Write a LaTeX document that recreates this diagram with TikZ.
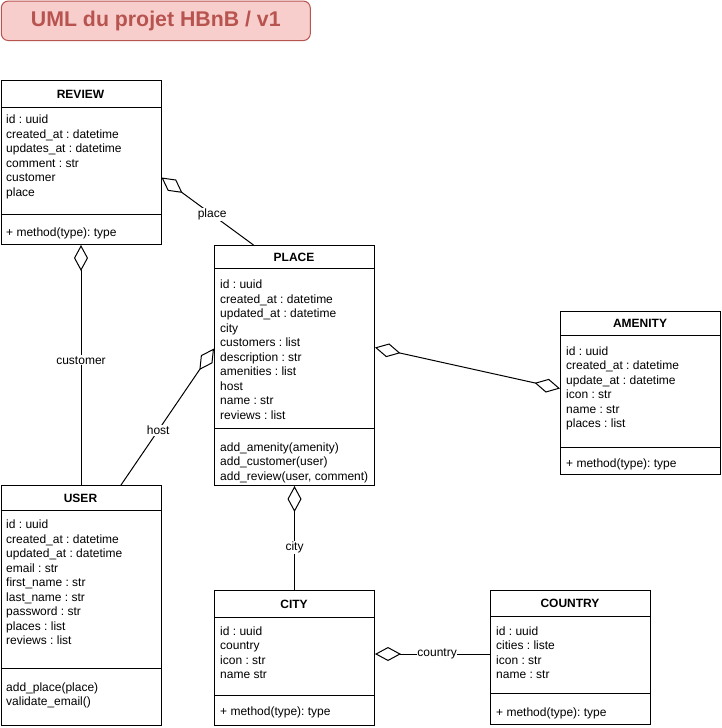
\documentclass[tikz,border=0pt]{standalone}
\usepackage{fontspec}
\setmainfont{Liberation Sans}
\usetikzlibrary{arrows.meta}
\definecolor{titlefill}{HTML}{F8CECC}
\definecolor{titleline}{HTML}{B85450}
\frenchspacing

\begin{document}
\begin{tikzpicture}[x=1pt,y=-1pt,
  classbox/.style={draw, line width=1pt, rectangle, inner sep=0, anchor=north west, minimum width=160pt},
  classname/.style={font=\fontsize{12}{14.5}\selectfont\bfseries, inner sep=0},
  members/.style={font=\fontsize{12}{14.5}\selectfont, align=left, anchor=north west, inner sep=0},
  sepline/.style={line width=1pt},
  assoc/.style={line width=1pt, {Diamond[open,length=26pt,width=14pt]}-},
  assocboth/.style={line width=1pt, {Diamond[open,length=26pt,width=14pt]}-{Diamond[open,length=26pt,width=14pt]}},
  lbl/.style={font=\fontsize{12}{14.5}\selectfont, fill=white, inner sep=1pt},
  titlebox/.style={draw=titleline, fill=titlefill, line width=1pt, rounded corners=7pt,
    minimum width=309pt, minimum height=39.5pt, inner sep=0,
    text=titleline, font=\fontsize{21.3}{24}\selectfont\bfseries}
]
\useasboundingbox (0,0) rectangle (721,728);

% title
\node[titlebox] (title) at (155.8,20.8) {UML du projet HBnB / v1};

% ---------- REVIEW ----------
\node[classbox, minimum height=164pt] (review) at (0.5,80) {};
\draw[sepline] ([yshift=-27pt]review.north west) -- ([yshift=-27pt]review.north east);
\draw[sepline] ([yshift=-134pt]review.north west) -- ([yshift=-134pt]review.north east);
\node[classname] (reviewname) at (80.5,94.3) {REVIEW};
\node[members] (reviewattr) at (6,114.8) {id : uuid\\created\_at : datetime\\updates\_at : datetime\\comment : str\\customer\\place};
\node[members] (reviewops) at (6,227.6) {+ method(type): type};

% ---------- PLACE ----------
\node[classbox, minimum height=240pt] (place) at (214,245) {};
\draw[sepline] ([yshift=-23pt]place.north west) -- ([yshift=-23pt]place.north east);
\draw[sepline] ([yshift=-183pt]place.north west) -- ([yshift=-183pt]place.north east);
\node[classname] (placename) at (294,257.3) {PLACE};
\node[members] (placeattr) at (220,279.8) {id : uuid\\created\_at : datetime\\updated\_at : datetime\\city\\customers : list\\description : str\\amenities : list\\host\\name : str\\reviews : list};
\node[members] (placeops) at (220,442.1) {add\_amenity(amenity)\\add\_customer(user)\\add\_review(user, comment)};

% ---------- AMENITY ----------
\node[classbox, minimum height=163pt] (amenity) at (560,311) {};
\draw[sepline] ([yshift=-24pt]amenity.north west) -- ([yshift=-24pt]amenity.north east);
\draw[sepline] ([yshift=-136pt]amenity.north west) -- ([yshift=-136pt]amenity.north east);
\node[classname] (amenityname) at (640,323.8) {AMENITY};
\node[members] (amenityattr) at (566,346.5) {id : uuid\\created\_at : datetime\\update\_at : datetime\\icon : str\\name : str\\places : list};
\node[members] (amenityops) at (566,458.3) {+ method(type): type};

% ---------- USER ----------
\node[classbox, minimum height=240pt] (user) at (0.5,485) {};
\draw[sepline] ([yshift=-25pt]user.north west) -- ([yshift=-25pt]user.north east);
\draw[sepline] ([yshift=-183pt]user.north west) -- ([yshift=-183pt]user.north east);
\node[classname] (username) at (80.5,498.3) {USER};
\node[members] (userattr) at (6,519.8) {id : uuid\\created\_at : datetime\\updated\_at : datetime\\email : str\\first\_name : str\\last\_name : str\\password : str\\places : list\\reviews : list};
\node[members] (userops) at (6,682.3) {add\_place(place)\\validate\_email()};

% ---------- CITY ----------
\node[classbox, minimum height=135pt] (city) at (214,590) {};
\draw[sepline] ([yshift=-27pt]city.north west) -- ([yshift=-27pt]city.north east);
\draw[sepline] ([yshift=-105pt]city.north west) -- ([yshift=-105pt]city.north east);
\node[classname] (cityname) at (294,604) {CITY};
\node[members] (cityattr) at (220,626.5) {id : uuid\\country\\icon : str\\name str};
\node[members] (cityops) at (220,706.3) {+ method(type): type};

% ---------- COUNTRY ----------
\node[classbox, minimum height=134pt] (country) at (490,590) {};
\draw[sepline] ([yshift=-26pt]country.north west) -- ([yshift=-26pt]country.north east);
\draw[sepline] ([yshift=-103pt]country.north west) -- ([yshift=-103pt]country.north east);
\node[classname] (countryname) at (570,603.8) {COUNTRY};
\node[members] (countryattr) at (496,626.5) {id : uuid\\cities : liste\\icon : str\\name : str};
\node[members] (countryops) at (496,707.8) {+ method(type): type};

% ---------- associations ----------
\draw[assoc] ([yshift=-15pt]review.east) -- node[lbl, pos=0.55] {place} ([xshift=-41pt]place.north);
\draw[assoc] (review.south) -- node[lbl, pos=0.48] {customer} (user.north);
\draw[assoc] ([yshift=17pt]place.west) -- node[lbl, pos=0.6] {host} ([xshift=40pt]user.north);
\draw[assocboth] ([yshift=18pt]place.east) -- ([yshift=4.5pt]amenity.west);
\draw[assoc] (place.south) -- node[lbl, pos=0.59] {city} (city.north);
\draw[assoc] ([yshift=4pt]city.east) -- node[lbl, pos=0.54, inner sep=0.5pt] {country} ([yshift=3.5pt]country.west);
\end{tikzpicture}
\end{document}
